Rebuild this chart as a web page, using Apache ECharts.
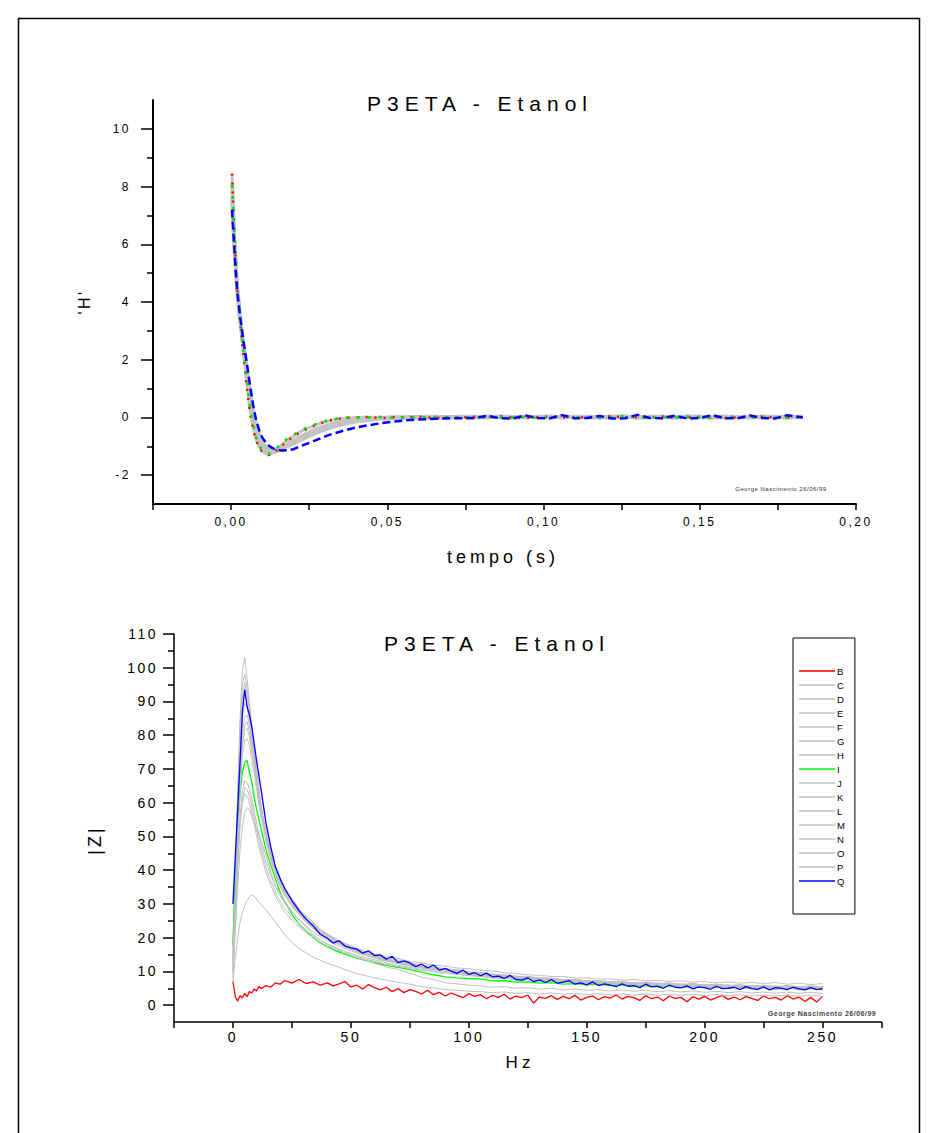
<!DOCTYPE html>
<html>
<head>
<meta charset="utf-8">
<script src="https://cdn.jsdelivr.net/npm/echarts@6/dist/echarts.min.js"></script>
<style>
html,body{margin:0;padding:0;background:#fff;}
#c{width:938px;height:1133px;letter-spacing:2.5px;}
</style>
</head>
<body>
<div id="c"></div>
<script>
// ---------- Top chart: time response ----------
const timeS = [0.0003,0.001,0.0015,0.002,0.003,0.004,0.005,0.006,0.007,0.008,0.009,0.010,0.011,0.012,0.013,0.014,
  0.016,0.018,0.020,0.022,0.025,0.028,0.031,0.034,0.037,0.040,0.044,0.048,0.052,0.056,0.060,0.065,0.070,
  0.074,0.078,0.082,0.086,0.090,0.094,0.098,0.102,0.106,0.110,0.114,0.118,0.122,0.126,0.130,0.134,0.138,
  0.142,0.146,0.150,0.154,0.158,0.162,0.166,0.170,0.174,0.178,0.183];
const hRed = [8.45,6.3,5.3,4.4,3.2,2.1,1.1,0.2,-0.4,-0.8,-1.05,-1.2,-1.28,-1.3,-1.28,-1.2,
  -1.0,-0.82,-0.66,-0.52,-0.36,-0.22,-0.12,-0.05,-0.02,0.0,0.02,-0.03,0.01,0.0,0.03,-0.02,0.01,
  0.0,0.02,-0.01,0.04,0.0,-0.02,0.01,0.03,0.0,-0.01,0.02,0.0,0.05,-0.02,0.01,0.0,0.03,-0.01,0.0,0.02,0.04,-0.02,0.0,0.01,0.03,0.0,0.01,-0.01];
const hGreen = [8.3,6.5,5.5,4.5,3.3,2.25,1.3,0.4,-0.25,-0.7,-0.98,-1.15,-1.24,-1.26,-1.22,-1.12,
  -0.92,-0.74,-0.6,-0.47,-0.32,-0.2,-0.1,-0.04,-0.01,0.01,0.0,0.02,-0.01,0.01,0.0,0.02,0.0,
  0.01,-0.01,0.03,0.0,0.0,0.02,-0.02,0.0,0.04,0.01,0.0,-0.01,0.02,0.05,0.0,-0.01,0.01,0.0,0.03,0.0,-0.02,0.04,0.01,0.0,0.02,-0.01,0.0,0.01];
const hBlue = [7.2,5.9,5.0,4.3,3.4,2.6,1.9,1.15,0.45,-0.1,-0.45,-0.7,-0.85,-0.97,-1.05,-1.1,
  -1.15,-1.14,-1.1,-1.0,-0.88,-0.75,-0.62,-0.52,-0.43,-0.35,-0.27,-0.2,-0.14,-0.1,-0.07,-0.05,-0.03,
  -0.03,-0.02,0.06,-0.03,-0.04,0.07,-0.02,-0.03,0.08,-0.03,-0.02,0.05,-0.04,-0.03,0.09,-0.02,-0.03,0.06,-0.04,-0.02,0.08,-0.03,-0.03,0.07,-0.02,-0.04,0.08,0.0];
const hGreyA = [8.1,6.2,5.3,4.4,3.3,2.35,1.5,0.7,0.05,-0.45,-0.8,-1.0,-1.12,-1.2,-1.22,-1.2,
  -1.08,-0.94,-0.8,-0.68,-0.52,-0.38,-0.27,-0.18,-0.11,-0.07,-0.04,-0.02,0.0,0.01,0.0,0.02,0.01,
  0.02,0.0,0.03,0.01,0.0,0.02,0.01,0.03,0.0,0.02,0.01,0.0,0.03,0.02,0.0,0.01,0.03,0.0,0.02,0.01,0.0,0.03,0.01,0.02,0.0,0.02,0.01,0.02];
const hGreyB = [7.6,6.0,5.2,4.4,3.35,2.5,1.7,0.95,0.3,-0.25,-0.62,-0.88,-1.02,-1.1,-1.15,-1.16,
  -1.1,-1.0,-0.9,-0.79,-0.64,-0.5,-0.38,-0.28,-0.2,-0.14,-0.09,-0.05,-0.03,-0.01,0.0,0.01,0.0,
  0.01,0.02,0.0,0.03,0.01,0.0,0.02,0.0,0.03,0.01,0.02,0.0,0.01,0.03,0.0,0.02,0.01,0.0,0.03,0.02,0.0,0.01,0.02,0.0,0.03,0.01,0.0,0.02];
const hGreyC = [8.4,6.4,5.4,4.45,3.25,2.2,1.2,0.3,-0.3,-0.75,-1.02,-1.18,-1.26,-1.28,-1.25,-1.17,
  -0.97,-0.79,-0.64,-0.5,-0.35,-0.22,-0.12,-0.06,-0.02,0.0,0.01,0.0,0.02,0.01,0.03,0.0,0.02,
  0.03,0.01,0.02,0.0,0.03,0.01,0.02,0.04,0.0,0.02,0.01,0.03,0.0,0.02,0.03,0.01,0.0,0.02,0.04,0.01,0.02,0.0,0.03,0.01,0.02,0.0,0.03,0.02];
const topXTicks = [-0.025,0,0.025,0.05,0.075,0.1,0.125,0.15,0.175,0.2];
const topXLabels = [0,0.05,0.1,0.15,0.2];
const topYLabels = [-2,0,2,4,6,8,10];
const topYMinor = [-1,1,3,5,7,9];

// ---------- Bottom chart: |Z| spectrum ----------
const freqHz = [0,1,2,3,4,5,6,7,8,9,10,11,12,
  14,16,18,20,22,25,28,31,34,37,40,44,48,52,56,60,
  65,70,75,80,85,90,95,100,
  105,110,115,120,125,130,135,140,145,150,155,160,165,170,175,
  180,185,190,195,200,205,210,215,220,225,230,235,240,245,250];
// denser frequency grid used by the red (B) and blue (Q) traces
const freqDense = [0,1,2,3,4,5,6,7,8,9,10,11,12,
  14,16,18,20,22,25,28,31,34,37,
  40,42.5,45,47.5,50,52.5,55,57.5,60,62.5,
  65,67.5,70,72.5,75,77.5,80,82.5,85,87.5,
  90,92.5,95,97.5,100,102.5,105,107.5,110,112.5,
  115,117.5,120,122.5,125,127.5,130,132.5,135,137.5,
  140,142.5,145,147.5,150,152.5,155,157.5,160,162.5,
  165,167.5,170,172.5,175,177.5,180,182.5,185,187.5,
  190,192.5,195,197.5,200,202.5,205,207.5,210,212.5,
  215,217.5,220,222.5,225,227.5,230,232.5,235,237.5,
  240,242.5,245,247.5,250];
const seriesNames = ['B','C','D','E','F','G','H','I','J','K','L','M','N','O','P','Q'];
const zB = [7,2.5,1.2,2.8,2.2,3.5,2.5,4.0,3.6,4.8,4.2,5.5,4.9,
  5.8,5.3,6.6,6.2,7.3,6.5,7.6,6.4,6.9,5.9,
  6.6,5.7,6.3,7.0,5.4,5.9,4.8,6.1,5.2,4.5,
  5.3,4.0,4.9,3.7,4.6,4.1,3.3,4.4,3.1,3.8,
  2.7,3.6,2.9,2.2,3.4,2.6,3.1,1.9,2.9,2.3,
  3.2,1.8,2.7,2.2,3.0,0.6,2.4,2.0,2.8,1.7,
  2.6,1.9,2.9,1.5,2.3,2.7,1.6,2.5,2.1,3.0,
  1.8,2.6,2.2,1.4,2.8,1.9,2.4,1.3,2.7,2.0,
  2.3,1.0,2.5,1.8,2.6,1.5,2.2,2.9,1.7,2.4,
  1.6,2.5,2.0,1.4,2.7,1.9,2.3,1.5,2.8,1.8,
  2.4,1.1,2.3,0.9,2.6];
const zC = [12,38,63,85,99,103,97,90,83,76,70,64,59,
  51,45,40.5,37,34.5,31.5,28.5,26.5,24.5,22.5,21,19.2,17.8,16.8,15.6,15,
  14.4,13.9,12.9,12.6,11.8,11.6,11.0,10.8,
  10.3,10.1,9.6,9.4,9.0,8.8,8.5,8.5,8.0,8.1,7.7,7.8,7.4,7.6,7.2,
  7.3,7.0,7.2,6.8,7.0,6.6,6.9,6.5,6.7,6.4,6.7,6.2,6.5,6.1,6.4];
const zD = [15,40,62,82,95,98,94,88,81,75,69,63.5,58.5,
  50.5,44,39.5,36,33.5,30.5,27.5,25.5,23.8,22,20.5,18.8,17.5,16.2,15.4,14.5,
  13.6,12.7,12.1,11.4,11.0,10.4,10.1,9.6,
  9.5,8.9,8.8,8.3,8.3,7.8,7.9,7.4,7.5,7.0,7.1,6.7,6.9,6.4,6.6,
  6.2,6.4,6.0,6.3,5.8,6.0,5.6,5.9,5.5,5.8,5.3,5.6,5.2,5.6,5.1];
const zE = [10,33,57,78,91,95.5,92,87,80,74,68.5,63,58,
  51,45,40,36.5,33.8,30.8,28,25.8,23.6,21.8,20.6,19.2,17.6,16.6,15.3,14.8,
  13.5,13.0,12.0,11.6,10.8,10.6,9.9,9.8,
  9.2,9.1,8.5,8.5,8.0,8.1,7.5,7.6,7.1,7.3,6.8,7.0,6.5,6.7,6.3,
  6.6,6.0,6.3,5.9,6.2,5.7,6.0,5.5,5.9,5.4,5.7,5.3,5.6,5.2,5.5];
const zF = [18,36,55,71,81,85.5,86,83,78,73,68,63,58.5,
  51.5,45.5,41,37.5,34.8,31.5,28.6,26.2,24.2,22.5,21.2,19.5,18.2,17.0,15.9,15.2,
  14.0,13.4,12.6,11.9,11.4,10.8,10.5,9.9,
  9.7,9.2,9.0,8.6,8.5,8.1,8.0,7.6,7.6,7.2,7.3,6.9,7.0,6.6,6.8,
  6.3,6.6,6.1,6.4,5.9,6.2,5.8,6.0,5.6,5.9,5.5,5.8,5.4,5.7,5.3];
const zG = [12,31,50,67,78,83,84,81,76.5,71.5,66.5,62,57.5,
  50,44,39.5,36,33.2,30,27.4,25,23.2,21.5,20.1,18.8,17.3,16.4,15.2,14.6,
  13.4,12.9,11.9,11.5,10.7,10.4,9.8,9.6,
  9.0,8.9,8.4,8.3,7.9,7.9,7.4,7.5,7.0,7.1,6.7,6.8,6.4,6.6,6.1,
  6.4,5.9,6.2,5.7,6.0,5.5,5.9,5.4,5.7,5.2,5.6,5.1,5.5,5.0,5.4];
const zH = [20,37,54,68,77,81.5,82,79.5,75,70,65.5,61,56.5,
  49.5,43.8,39.2,35.6,32.8,29.8,27.2,24.9,22.9,21.4,20.0,18.5,17.2,16.1,15.1,14.4,
  13.3,12.6,11.9,11.2,10.8,10.2,9.9,9.4,
  9.2,8.7,8.6,8.1,8.2,7.7,7.7,7.3,7.4,6.9,7.0,6.6,6.7,6.3,6.5,
  6.1,6.3,5.9,6.1,5.7,5.9,5.5,5.8,5.4,5.6,5.2,5.5,5.1,5.4,5.0];
const zI = [17.5,38,53,63,69,72,72.5,69,66,61.5,58,55,52,
  46,41.5,37.5,33.5,30.5,27,24,22,20,18.5,17.3,16,15,14,13.3,12.6,
  11.8,11.2,10.5,9.8,9.0,8.4,8.1,7.9,
  7.8,7.2,7.3,6.8,6.9,6.5,6.7,6.2,6.4,6.0,6.2,5.8,6.0,5.6,5.8,
  5.5,5.7,5.3,5.5,5.2,5.4,5.1,5.3,5.0,5.2,4.9,5.1,4.8,5.0,4.7];
const zJ = [9,28,47,63,74,78.5,79,77,73,68.5,64,59.5,55.5,
  48.5,43,38.6,35.2,32.4,29.4,26.8,24.6,22.7,21.1,19.8,18.3,17.0,15.9,15.0,14.1,
  13.2,12.4,11.8,11.1,10.6,10.1,9.7,9.3,
  9.0,8.6,8.4,8.0,7.9,7.6,7.5,7.2,7.2,6.8,6.9,6.5,6.6,6.2,6.4,
  6.0,6.2,5.8,6.0,5.6,5.8,5.4,5.7,5.3,5.5,5.1,5.4,5.0,5.3,4.9];
const zK = [14,29,44,56,63.5,66.5,66,64,61,57.5,54,50.5,47.5,
  42.5,38.5,35.2,32.4,30.2,27.6,25.4,23.4,21.7,20.3,19.1,17.8,16.6,15.6,14.7,13.9,
  13.0,12.3,11.6,11.0,10.5,10.0,9.6,9.2,
  8.9,8.5,8.3,7.9,7.8,7.5,7.4,7.0,7.1,6.7,6.8,6.4,6.5,6.1,6.3,
  5.9,6.1,5.7,5.9,5.5,5.7,5.3,5.6,5.2,5.4,5.0,5.3,4.9,5.2,4.8];
const zL = [8,24,40,53,61,64.5,64,62,59,55.5,52,48.8,45.8,
  40.8,36.8,33.5,30.8,28.6,26.1,24.0,22.2,20.6,19.3,18.2,16.9,15.8,14.9,14.1,13.4,
  12.5,11.8,11.2,10.6,10.1,9.6,9.3,8.9,
  8.6,8.2,8.0,7.6,7.5,7.2,7.1,6.8,6.8,6.5,6.5,6.2,6.3,5.9,6.1,
  5.7,5.9,5.5,5.7,5.3,5.5,5.1,5.4,5.0,5.3,4.8,5.1,4.7,5.0,4.6];
const zM = [16,30,43,54,60,62.5,62,60,57,53.5,50.2,47,44.2,
  39.4,35.5,32.3,29.7,27.6,25.2,23.2,21.5,20.0,18.7,17.6,16.4,15.4,14.5,13.7,13.0,
  12.1,11.5,10.9,10.3,9.9,9.4,9.1,8.7,
  8.5,8.0,7.9,7.5,7.4,7.0,7.0,6.6,6.7,6.3,6.4,6.0,6.2,5.8,6.0,
  5.6,5.8,5.4,5.6,5.2,5.4,5.0,5.3,4.9,5.2,4.7,5.0,4.6,4.9,4.5];
const zN = [10,22,35,46,53,57,58.5,58,56,54,52,50.5,48.5,
  44.5,39.5,35.5,33,30.8,27.8,25.3,23.2,21.0,19.2,18.0,16.8,15.2,14.2,13.3,12.4,
  11.3,10.6,9.4,8.3,7.6,6.6,6.3,5.9,
  5.7,5.3,5.5,5.0,5.2,4.7,5.0,4.5,4.8,4.4,4.6,4.2,4.5,4.1,4.4,
  4.0,4.3,3.9,4.2,3.8,4.1,3.7,4.0,3.6,3.9,3.5,3.9,3.5,3.8,3.4];
const zO = [7,14,20,24.5,27.5,29.5,31,32,32.7,32.3,31.5,30.5,29.8,
  28.2,26.4,24.6,22.7,20.8,18.6,16.8,15.5,14.2,13.3,12.4,11.5,10.4,9.4,8.8,8.1,
  7.4,6.8,6.2,5.5,5.1,4.6,4.4,4.1,
  4.0,3.7,3.9,3.5,3.7,3.3,3.6,3.2,3.5,3.1,3.4,3.0,3.3,3.0,3.3,
  2.9,3.2,2.9,3.2,2.8,3.1,2.8,3.1,2.7,3.0,2.7,3.0,2.6,3.0,2.6];
const zP = [13,34,56,74,85,89.5,88,84,78.5,73,67.5,62.5,58,
  50.8,45,40.2,36.7,33.9,30.7,28.1,25.6,23.9,22.1,20.8,19.0,17.9,16.5,15.7,14.7,
  13.9,12.9,12.3,11.5,11.1,10.5,10.3,9.7,
  9.6,9.0,8.9,8.4,8.4,7.9,7.9,7.5,7.6,7.1,7.2,6.8,6.9,6.5,6.7,
  6.3,6.5,6.1,6.3,5.9,6.2,5.7,6.0,5.6,5.9,5.4,5.7,5.3,5.6,5.2];
const zQ = [30,44,58,72,87,93.5,88.5,86,82.5,77.5,72.5,68,63.5,
  54,47,41,37.5,34.5,31,28,25.5,23.5,21,
  19.8,18.4,19.1,17.5,17.0,16.6,15.4,16.1,14.7,14.9,
  13.6,14.5,12.6,13.1,12.5,11.4,12.2,11.0,11.9,10.4,
  10.9,10.1,9.4,10.4,9.1,9.6,8.7,9.5,8.4,8.6,
  7.9,8.8,7.6,7.4,8.1,7.0,7.5,6.7,7.6,6.5,
  6.8,7.3,6.2,6.6,6.0,6.9,5.8,6.3,5.9,5.5,
  6.3,5.6,5.8,5.2,6.2,5.4,5.6,5.0,5.9,5.3,
  5.1,5.7,4.8,5.4,5.2,4.7,5.6,4.9,5.0,5.3,
  4.6,5.5,4.9,4.7,5.4,4.5,5.2,5.0,4.6,5.3,
  4.8,4.5,5.2,4.6,4.9];
const botXTicks = [-25,0,25,50,75,100,125,150,175,200,225,250,275];
const botXLabels = [0,50,100,150,200,250];
const botYLabels = [0,10,20,30,40,50,60,70,80,90,100,110];
const botYMinor = [5,15,25,35,45,55,65,75,85,95,105];

const titleText = 'P3ETA - Etanol';
const footText = 'George Nascimento 26/06/99';

// ---------- build ----------
const FONT = '"Liberation Sans", Arial, sans-serif';
const pairs = (xs, ys) => xs.map((x, i) => [x, ys[i]]);
const zData = {B:zB,C:zC,D:zD,E:zE,F:zF,G:zG,H:zH,I:zI,J:zJ,K:zK,L:zL,M:zM,N:zN,O:zO,P:zP,Q:zQ};
const zFreq = n => (n === 'B' || n === 'Q') ? freqDense : freqHz;
const zColor = n => n === 'B' ? '#ff0000' : n === 'I' ? '#00ff00' : n === 'Q' ? '#0000ff' : '#c0c0c0';

const topSeries = [
  {name:'t-gA', data:pairs(timeS,hGreyA), color:'#c4c4c4', lineStyle:{width:4}},
  {name:'t-gB', data:pairs(timeS,hGreyB), color:'#c4c4c4', lineStyle:{width:4}},
  {name:'t-gC', data:pairs(timeS,hGreyC), color:'#c4c4c4', lineStyle:{width:3}},
  {name:'t-red', data:pairs(timeS,hRed), color:'#ff0000', lineStyle:{width:2.5, type:[2,7]}},
  {name:'t-green', data:pairs(timeS,hGreen), color:'#00e000', lineStyle:{width:2.5, type:[3,8], dashOffset:4}},
  {name:'t-blue', data:pairs(timeS,hBlue), color:'#0000ff', lineStyle:{width:2.5, type:[8,4]}}
].map(s => Object.assign({type:'line', xAxisIndex:0, yAxisIndex:0, symbol:'none', showSymbol:false, silent:true}, s));

const botSeries = seriesNames.map(n => ({
  type:'line', name:n, xAxisIndex:1, yAxisIndex:2, symbol:'none', showSymbol:false, silent:true,
  data: pairs(zFreq(n), zData[n]), color: zColor(n),
  lineStyle:{width: (n==='B'||n==='I'||n==='Q') ? 1.3 : 1}
}));

const axisTxt = {color:'#000', fontFamily:FONT};

const option = {
  animation:false,
  textStyle:{fontFamily:FONT},
  grid:[
    {left:153, top:100, width:703, height:404},
    {left:174, top:634, width:707.5, height:388}
  ],
  xAxis:[
    {gridIndex:0, type:'value', min:-0.025, max:0.2, interval:0.025,
     axisLine:{onZero:false, lineStyle:{color:'#000', width:2}},
     axisTick:{customValues:topXTicks, length:6, lineStyle:{color:'#000', width:1.5}},
     axisLabel:Object.assign({customValues:topXLabels, margin:12, fontSize:12,
       formatter:v => v.toFixed(2).replace('.', ',')}, axisTxt),
     splitLine:{show:false}},
    {gridIndex:1, type:'value', min:-25, max:275, interval:25,
     axisLine:{onZero:false, lineStyle:{color:'#000', width:1.5}},
     axisTick:{customValues:botXTicks, length:6, lineStyle:{color:'#000', width:1.5}},
     axisLabel:Object.assign({customValues:botXLabels, margin:8, fontSize:14}, axisTxt),
     splitLine:{show:false}}
  ],
  yAxis:[
    {gridIndex:0, type:'value', position:'left', min:-3, max:11, interval:1,
     axisLine:{show:true, onZero:false, lineStyle:{color:'#000', width:2}},
     axisTick:{show:true, customValues:topYLabels, length:12, lineStyle:{color:'#000', width:1.5}},
     axisLabel:Object.assign({customValues:topYLabels, margin:22, fontSize:12}, axisTxt),
     splitLine:{show:false}},
    {gridIndex:0, type:'value', position:'left', offset:0, min:-3, max:11, interval:1,
     axisLine:{show:false, onZero:false},
     axisTick:{show:true, customValues:topYMinor, length:6, lineStyle:{color:'#000', width:1.5}},
     axisLabel:{show:false}, splitLine:{show:false}},
    {gridIndex:1, type:'value', position:'left', min:-5, max:110, interval:5,
     axisLine:{show:true, onZero:false, lineStyle:{color:'#000', width:1.5}},
     axisTick:{show:true, customValues:botYLabels, length:11, lineStyle:{color:'#000', width:1.5}},
     axisLabel:Object.assign({customValues:botYLabels, margin:16, fontSize:14}, axisTxt),
     splitLine:{show:false}},
    {gridIndex:1, type:'value', position:'left', offset:0, min:-5, max:110, interval:5,
     axisLine:{show:false, onZero:false},
     axisTick:{show:true, customValues:botYMinor, length:6, lineStyle:{color:'#000', width:1.5}},
     axisLabel:{show:false}, splitLine:{show:false}}
  ],
  legend:{
    data:seriesNames, orient:'vertical', left:793, top:638,
    padding:[27,10,27,6], itemWidth:36, itemHeight:1.5, itemGap:2, icon:'rect',
    borderColor:'#000', borderWidth:1, backgroundColor:'#fff', selectedMode:false,
    textStyle:{fontSize:9.5, lineHeight:12, color:'#000', fontFamily:FONT, padding:[0,0,0,-3]}
  },
  graphic:{elements:[
    {type:'rect', silent:true, shape:{x:18.5, y:18.5, width:901, height:1140},
     style:{fill:'none', stroke:'#000', lineWidth:1.5}},
    {type:'text', x:480, y:103, silent:true,
     style:{text:titleText, font:'21px ' + FONT, fill:'#000', textAlign:'center', textVerticalAlign:'middle'}},
    {type:'text', x:84, y:302, rotation:Math.PI/2, silent:true,
     style:{text:"'H'", font:'16px ' + FONT, fill:'#000', textAlign:'center', textVerticalAlign:'middle'}},
    {type:'text', x:503, y:557, silent:true,
     style:{text:'tempo (s)', font:'18px ' + FONT, fill:'#000', textAlign:'center', textVerticalAlign:'middle'}},
    {type:'text', x:781, y:489, silent:true,
     style:{text:footText, font:'6px ' + FONT, fill:'#333', textAlign:'center', textVerticalAlign:'middle'}},
    {type:'text', x:497, y:643, silent:true,
     style:{text:titleText, font:'21px ' + FONT, fill:'#000', textAlign:'center', textVerticalAlign:'middle'}},
    {type:'text', x:95, y:840, rotation:Math.PI/2, silent:true,
     style:{text:'|Z|', font:'18px ' + FONT, fill:'#000', textAlign:'center', textVerticalAlign:'middle'}},
    {type:'text', x:520, y:1062, silent:true,
     style:{text:'Hz', font:'17px ' + FONT, fill:'#000', textAlign:'center', textVerticalAlign:'middle'}},
    {type:'text', x:822, y:1013, silent:true,
     style:{text:footText, font:'bold 7px ' + FONT, fill:'#444', textAlign:'center', textVerticalAlign:'middle'}}
  ]},
  series: topSeries.concat(botSeries)
};

const chart = echarts.init(document.getElementById('c'), null, {renderer:'svg', width:938, height:1133});
chart.setOption(option);

const spacing = {};
spacing[titleText] = '6px';
spacing['tempo (s)'] = '4px';
spacing['Hz'] = '4px';
spacing['|Z|'] = '3px';
spacing[footText] = '0.5px';
function applySpacing(){
  document.querySelectorAll('#c text').forEach(t => {
    const s = t.textContent;
    if (spacing[s] !== undefined) { t.setAttribute('letter-spacing', spacing[s]); t.style.letterSpacing = spacing[s]; }
  });
}
applySpacing();
chart.on('finished', applySpacing);
setTimeout(applySpacing, 50);
</script>
</body>
</html>
